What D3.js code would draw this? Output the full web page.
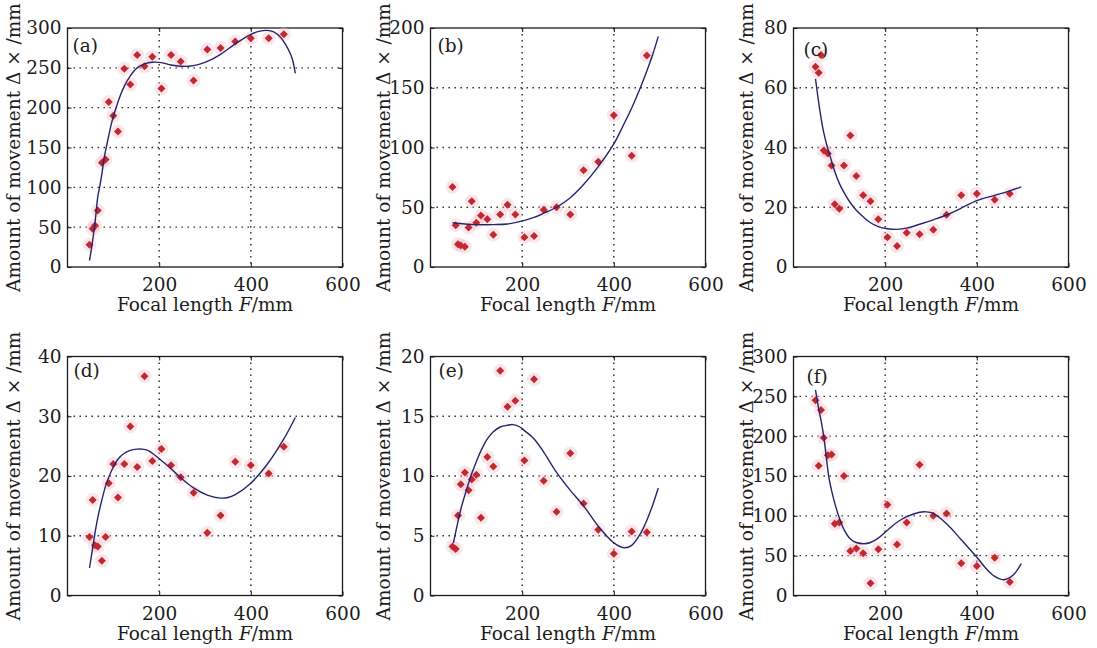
<!DOCTYPE html>
<html>
<head>
<meta charset="utf-8">
<script src="https://cdn.jsdelivr.net/npm/d3@7"></script>
<style>
  body { margin: 0; background: #fff; }
</style>
</head>
<body>
<svg id="fig" width="1097" height="648" font-family="'DejaVu Serif', 'Liberation Serif', serif"></svg>
<script>
// focal lengths of the measured lenses (shared by all six panels)
const focal = [48, 55, 60, 66, 75, 83, 90, 100, 110, 124, 137, 152, 168, 185, 205, 226, 247, 275, 305, 334, 366, 400, 439, 472];

// measured amount of movement, one array per panel
const moveA = [28, 48, 52, 71, 131, 135, 207, 190, 170, 249, 229, 266, 252, 264, 224, 266, 258, 234, 273, 275, 283, 287, 287, 292];
const moveB = [67, 35, 19, 18, 17, 33, 55, 37, 43, 40, 27, 44, 52, 44, 25, 26, 48, 50, 44, 81, 88, 127, 93, 177];
const moveC = [67, 65, 71, 39, 38, 34, 21, 19.5, 34, 44, 30.5, 24, 22, 16, 10, 7, 11.5, 11, 12.5, 17.5, 24, 24.5, 22.5, 24.5];
const moveD = [9.8, 16, 8.4, 8.2, 5.8, 9.8, 18.8, 22, 16.4, 22, 28.3, 21.5, 36.7, 22.5, 24.5, 21.8, 19.8, 17.2, 10.5, 13.4, 22.4, 21.8, 20.4, 24.9];
const moveE = [4.1, 3.9, 6.7, 9.3, 10.3, 8.8, 9.7, 10.1, 6.5, 11.6, 10.8, 18.8, 15.8, 16.3, 11.3, 18.1, 9.6, 7.0, 11.9, 7.7, 5.5, 3.5, 5.35, 5.3];
const moveF = [245, 163, 233, 198, 176, 177, 90, 91.5, 150, 56, 59, 53, 15.5, 58, 114, 64, 91.5, 164, 100, 103, 40.5, 37, 47.5, 17];

// fitted curves
const fitXA = [48, 52, 56, 59, 63, 66, 70, 75, 80, 84.5, 90, 95, 100, 106, 115, 124, 137, 152, 168, 185, 205, 226, 247, 265, 285, 305, 334, 366, 400, 420, 435, 450, 465, 480, 490, 497];
const fitA  = [8, 22, 38, 50, 72, 88, 100, 117, 137, 150, 165, 178, 189, 200, 215, 227, 240, 250, 255, 257, 256.5, 253.5, 252, 252, 254, 258, 267, 280, 292, 296, 297, 295, 288, 275, 262, 243];
const fitXB = [48, 75, 100, 137, 168, 205, 226, 247, 275, 305, 334, 366, 400, 420, 439, 460, 472, 485, 497];
const fitB  = [37, 36, 35.5, 35.5, 36, 39, 41.5, 45, 50, 58, 69, 84, 103, 118, 133, 152, 164, 178, 193];
const fitXC = [48, 55, 60, 66, 75, 83, 90, 100, 110, 124, 137, 152, 168, 185, 205, 226, 247, 275, 305, 334, 366, 400, 439, 472, 497];
const fitC  = [63, 55, 50, 45, 39.5, 35.5, 32, 28, 25, 21.5, 19, 16.8, 14.8, 13.5, 12.8, 12.6, 13, 14.3, 15.8, 17.4, 19.7, 22.2, 24, 25.5, 26.8];
const fitXD = [48, 55, 60, 66, 75, 83, 90, 100, 110, 124, 137, 152, 163, 175, 185, 205, 226, 247, 275, 305, 334, 350, 366, 400, 439, 472, 497];
const fitD  = [4.6, 8, 10.5, 13, 16, 18.3, 19.8, 21.5, 22.8, 23.8, 24.3, 24.5, 24.5, 24.3, 23.8, 22.6, 21.2, 19.7, 18, 16.8, 16.3, 16.4, 16.9, 18.8, 22.3, 26.2, 29.8];
const fitXE = [50, 55, 60, 66, 75, 83, 90, 100, 110, 124, 137, 152, 168, 180, 195, 205, 226, 247, 275, 305, 334, 366, 400, 422, 439, 460, 472, 485, 497];
const fitE  = [4.4, 5.3, 6.2, 7.2, 8.4, 9.4, 10.2, 11.2, 12.1, 13.1, 13.7, 14.1, 14.25, 14.3, 14.1, 13.8, 13.1, 12.0, 10.3, 8.8, 7.5, 5.8, 4.4, 4.0, 4.2, 5.3, 6.3, 7.6, 9.0];
const fitXF = [48, 55, 60, 66, 77, 83, 90, 99, 110, 124, 137, 154, 168, 185, 205, 226, 247, 275, 290, 305, 334, 366, 400, 420, 439, 455, 465, 480, 497];
const fitF  = [258, 234, 220, 200, 149, 132, 116, 99, 83, 71, 66.5, 65, 66.5, 72, 82, 92, 99, 104.5, 105, 103, 90, 70, 48, 34, 24, 20, 20.5, 26, 40];

// axis ticks
const xTicks = [200, 400, 600];
const yTicksA = [0, 50, 100, 150, 200, 250, 300];
const yTicksB = [0, 50, 100, 150, 200];
const yTicksC = [0, 20, 40, 60, 80];
const yTicksD = [0, 10, 20, 30, 40];
const yTicksE = [0, 5, 10, 15, 20];
const yTicksF = [0, 50, 100, 150, 200, 250, 300];

const panels = [
  { name: '(a)', values: moveA, fx: fitXA, fy: fitA, yTicks: yTicksA },
  { name: '(b)', values: moveB, fx: fitXB, fy: fitB, yTicks: yTicksB },
  { name: '(c)', values: moveC, fx: fitXC, fy: fitC, yTicks: yTicksC },
  { name: '(d)', values: moveD, fx: fitXD, fy: fitD, yTicks: yTicksD },
  { name: '(e)', values: moveE, fx: fitXE, fy: fitE, yTicks: yTicksE },
  { name: '(f)', values: moveF, fx: fitXF, fy: fitF, yTicks: yTicksF }
];

// layout of the 2x3 grid
const colLeft = [67.5, 430.5, 793.5];
const rowTop = [28, 356.5];
const w = 275, h = 239;
const ylabelDx = [-48, -41, -41];
const nameOffset = [[5, 24], [7, 24], [10, 28], [6, 20], [8, 20], [13, 26]];

const svg = d3.select('#fig');
const fontSize = 18.5;
const ink = '#1c1c1c';

panels.forEach((p, i) => {
  const col = i % 3, row = Math.floor(i / 3);
  const g = svg.append('g')
    .attr('transform', `translate(${colLeft[col]},${rowTop[row]})`);

  const x = d3.scaleLinear().domain([0, 600]).range([0, w]);
  const y = d3.scaleLinear().domain([0, d3.max(p.yTicks)]).range([h, 0]);

  // dotted grid
  g.append('g').selectAll('line')
    .data(p.yTicks.slice(1, -1))
    .enter().append('line')
    .attr('x1', 0).attr('x2', w)
    .attr('y1', d => y(d)).attr('y2', d => y(d))
    .attr('stroke', '#222').attr('stroke-width', 1.4)
    .attr('stroke-dasharray', '1.4,4.6');
  g.append('g').selectAll('line')
    .data(xTicks.slice(0, -1))
    .enter().append('line')
    .attr('y1', 0).attr('y2', h)
    .attr('x1', d => x(d)).attr('x2', d => x(d))
    .attr('stroke', '#222').attr('stroke-width', 1.4)
    .attr('stroke-dasharray', '1.4,4.6');

  // axes with inward ticks
  const left = g.append('g')
    .call(d3.axisLeft(y).tickValues(p.yTicks).tickSize(-4).tickPadding(6));
  const bottom = g.append('g')
    .attr('transform', `translate(0,${h})`)
    .call(d3.axisBottom(x).tickValues(xTicks).tickSize(-4).tickPadding(11));
  g.append('g').attr('transform', `translate(${w},0)`)
    .call(d3.axisRight(y).tickValues(p.yTicks).tickSize(-4).tickFormat(''));
  g.append('g')
    .call(d3.axisTop(x).tickValues(xTicks).tickSize(-4).tickFormat(''));
  g.selectAll('.domain').remove();
  g.selectAll('.tick line').attr('stroke', '#222').attr('stroke-width', 1.1);
  [left, bottom].forEach(a => a.attr('font-family', null).attr('font-size', fontSize)
    .selectAll('text').attr('fill', ink));

  // box
  g.append('rect')
    .attr('width', w).attr('height', h)
    .attr('fill', 'none').attr('stroke', '#1a1a1a').attr('stroke-width', 1.3);

  // measured points
  const pts = focal.map((f, k) => [f, p.values[k]]);
  g.append('g').selectAll('circle')
    .data(pts)
    .enter().append('circle')
    .attr('cx', d => x(d[0])).attr('cy', d => y(d[1]))
    .attr('r', 7)
    .attr('fill', '#f2c4cf').attr('opacity', 0.4);
  g.append('g').selectAll('path')
    .data(pts)
    .enter().append('path')
    .attr('transform', d => `translate(${x(d[0])},${y(d[1])}) rotate(45)`)
    .attr('d', d3.symbol(d3.symbolSquare, 32))
    .attr('fill', '#c3282e');

  // fitted curve
  const line = d3.line()
    .x(d => x(d[0])).y(d => y(d[1]))
    .curve(d3.curveCatmullRom.alpha(0.5));
  g.append('path')
    .datum(p.fx.map((f, k) => [f, p.fy[k]]))
    .attr('d', line)
    .attr('fill', 'none')
    .attr('stroke', '#25256e')
    .attr('stroke-width', 1.4);

  // panel name
  g.append('text')
    .attr('x', nameOffset[i][0]).attr('y', nameOffset[i][1])
    .attr('font-size', fontSize).attr('fill', ink)
    .text(p.name);

  // axis labels
  const xl = g.append('text')
    .attr('x', w / 2).attr('y', h + 44)
    .attr('text-anchor', 'middle')
    .attr('font-size', fontSize).attr('fill', ink);
  xl.append('tspan').text('Focal length ');
  xl.append('tspan').attr('font-style', 'italic').text('F');
  xl.append('tspan').text('/mm');

  g.append('text')
    .attr('transform', `translate(${ylabelDx[col]},${h / 2}) rotate(-90)`)
    .attr('text-anchor', 'middle')
    .attr('font-size', fontSize).attr('fill', ink)
    .text('Amount of movement \u0394 \u00d7 /mm');
});
</script>
</body>
</html>
